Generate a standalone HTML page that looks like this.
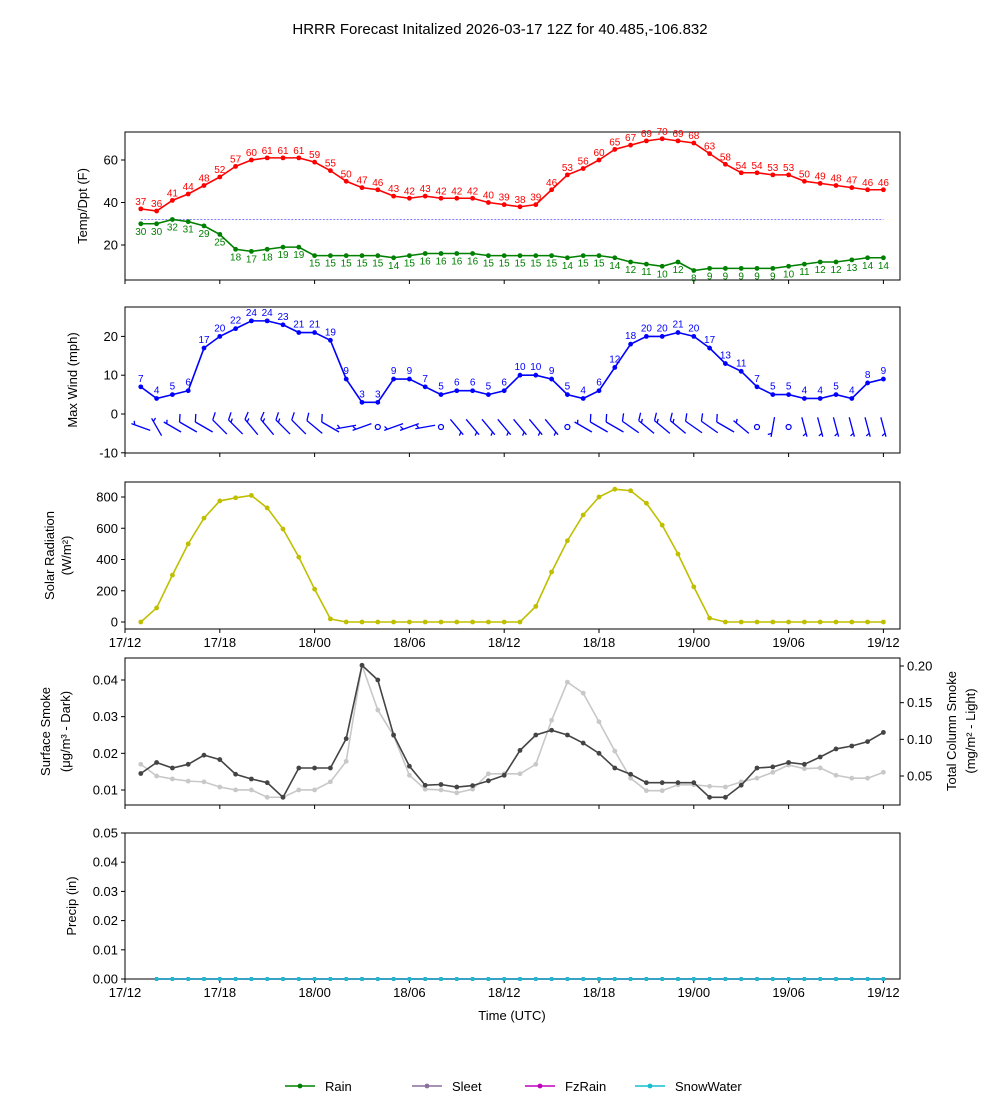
<!DOCTYPE html>
<html><head><meta charset="utf-8"><style>
body{margin:0;background:#fff;font-family:"Liberation Sans",sans-serif}
svg text{font-family:"Liberation Sans","DejaVu Sans",sans-serif}
</style></head><body>
<svg id="c" width="1000" height="1100" xmlns="http://www.w3.org/2000/svg">
<text x="500" y="34" font-size="15" text-anchor="middle">HRRR Forecast Initalized 2026-03-17 12Z for 40.485,-106.832</text>
</svg>
<script>
const hours=[1,2,3,4,5,6,7,8,9,10,11,12,13,14,15,16,17,18,19,20,21,22,23,24,25,26,27,28,29,30,31,32,33,34,35,36,37,38,39,40,41,42,43,44,45,46,47,48];
const temp=[37,36,41,44,48,52,57,60,61,61,61,59,55,50,47,46,43,42,43,42,42,42,40,39,38,39,46,53,56,60,65,67,69,70,69,68,63,58,54,54,53,53,50,49,48,47,46,46];
const dewp=[30,30,32,31,29,25,18,17,18,19,19,15,15,15,15,15,14,15,16,16,16,16,15,15,15,15,15,14,15,15,14,12,11,10,12,8,9,9,9,9,9,10,11,12,12,13,14,14];
const wind=[7,4,5,6,17,20,22,24,24,23,21,21,19,9,3,3,9,9,7,5,6,6,5,6,10,10,9,5,4,6,12,18,20,20,21,20,17,13,11,7,5,5,4,4,5,4,8,9];
const barbSpeed=[8,8,8,10,12,14,15,15,15,15,14,14,12,8,5,2,6,6,6,2,7,7,7,7,7,8,8,2,8,10,10,14,15,15,15,14,12,10,8,2,7,2,7,7,7,7,7,7];
const windDir=[290,330,300,300,300,315,315,320,320,315,315,310,300,260,250,0,250,250,260,0,140,140,140,140,140,140,140,0,300,300,300,305,310,310,310,305,305,300,310,0,190,0,165,165,165,165,165,165];
const solar=[0,90,300,500,665,775,795,810,730,595,415,210,20,0,0,0,0,0,0,0,0,0,0,0,0,100,320,520,685,800,850,840,760,620,435,225,25,0,0,0,0,0,0,0,0,0,0,0];
const smokeDark=[0.0145,0.0175,0.016,0.017,0.0195,0.0183,0.0143,0.013,0.012,0.008,0.016,0.016,0.016,0.024,0.044,0.040,0.025,0.0165,0.0113,0.0115,0.0108,0.0112,0.0125,0.014,0.0208,0.025,0.0263,0.025,0.0228,0.02,0.016,0.0143,0.012,0.012,0.012,0.012,0.008,0.008,0.0113,0.016,0.0163,0.0175,0.017,0.019,0.0212,0.022,0.0232,0.0257];
const smokeLight=[0.066,0.05,0.046,0.043,0.042,0.035,0.031,0.031,0.021,0.021,0.031,0.031,0.042,0.07,0.201,0.14,0.105,0.051,0.032,0.031,0.027,0.032,0.053,0.053,0.053,0.066,0.126,0.178,0.163,0.124,0.084,0.047,0.03,0.03,0.038,0.038,0.036,0.035,0.042,0.047,0.055,0.065,0.06,0.061,0.051,0.047,0.047,0.055];
const precip=[0,0,0,0,0,0,0,0,0,0,0,0,0,0,0,0,0,0,0,0,0,0,0,0,0,0,0,0,0,0,0,0,0,0,0,0,0,0,0,0,0,0,0,0,0,0,0];
const xTickLabels=["17/12","17/18","18/00","18/06","18/12","18/18","19/00","19/06","19/12"];
const NS="http://www.w3.org/2000/svg",svg=document.getElementById('c');
const X0=125,X1=900;
function x(h){return 125+h*15.8;}
function mk(t,a,p){const e=document.createElementNS(NS,t);for(const k in a)e.setAttribute(k,a[k]);(p||svg).appendChild(e);return e;}
function txt(s,a,p){const e=mk('text',a,p);e.textContent=s;return e;}
function panel(name,top,bot,yfn,ticks,fmt,ylabel,lx,xlabels){
  const g=mk('g',{});
  
  
  mk('rect',{x:X0,y:top,width:X1-X0,height:bot-top,fill:'none',stroke:'#000','stroke-width':1},g);
  ticks.forEach(t=>{const y=yfn(t);mk('line',{x1:X0-4,x2:X0,y1:y,y2:y,stroke:'#000'},g);
    const l=txt(fmt(t),{x:X0-7,y:y+4.5,'font-size':13,'text-anchor':'end'},g);
    });
  xTickLabels.forEach((s,i)=>{const xx=x(i*6);mk('line',{x1:xx,x2:xx,y1:bot,y2:bot+4,stroke:'#000'},g);
    if(xlabels){const l=txt(s,{x:xx,y:bot+18,'font-size':13,'text-anchor':'middle'},g);
    }});
  const cy=(top+bot)/2;
  ylabel.forEach((s,i)=>{const l=txt(s,{x:0,y:0,'font-size':13,'text-anchor':'middle',transform:`translate(${lx[i]},${cy}) rotate(-90)`},g);
    });
  return g;
}
function series(g,vals,hs,yfn,color,name,r){
  const pts=vals.map((v,i)=>x(hs[i])+','+yfn(v)).join(' ');
  const pl=mk('polyline',{points:pts,fill:'none',stroke:color,'stroke-width':1.6},g);
  
  
  vals.forEach((v,i)=>{const c=mk('circle',{cx:x(hs[i]),cy:yfn(v),r:r||2.4,fill:color},g);
    
    });
}
// Panel 1
const yT=v=>202.5-(v-40)*2.125;
let g1=panel('temp-panel',132,280,yT,[20,40,60],v=>v,['Temp/Dpt (F)'],[87],false);
mk('line',{x1:x(1),x2:x(48),y1:yT(32),y2:yT(32),stroke:'blue','stroke-width':0.6,'stroke-dasharray':'2,1.5'},g1);
series(g1,temp,hours,yT,'red','temperature');
series(g1,dewp,hours,yT,'green','dewpoint');
temp.forEach((v,i)=>{const l=txt(v,{x:x(hours[i]),y:yT(v)-4,'font-size':10,fill:'red','text-anchor':'middle'},g1);});
dewp.forEach((v,i)=>{const l=txt(v,{x:x(hours[i]),y:yT(v)+11,'font-size':10,fill:'green','text-anchor':'middle'},g1);});
// Panel 2
const yW=v=>414-v*3.88;
let g2=panel('wind-panel',307,453,yW,[-10,0,10,20],v=>v,['Max Wind (mph)'],[77],false);
series(g2,wind,hours,yW,'blue','wind');
wind.forEach((v,i)=>{const l=txt(v,{x:x(hours[i]),y:yW(v)-5,'font-size':10,fill:'blue','text-anchor':'middle'},g2);});
barbSpeed.forEach((s,i)=>{const cx=x(hours[i]),cy=427;
  if(windDir[i]===0||s<4){const c=mk('circle',{cx:cx,cy:cy,r:2.5,fill:'none',stroke:'blue','stroke-width':1.2},g2);return;}
  const a=windDir[i]*Math.PI/180,ux=Math.sin(a),uy=-Math.cos(a),L=20;
  const tx=cx+ux*L/2,ty=cy+uy*L/2;
  const b=mk('line',{x1:cx-ux*L/2,y1:cy-uy*L/2,x2:tx,y2:ty,stroke:'blue','stroke-width':1.3},g2);
  
  const px=-uy,py=ux;
  const fx=px*0.9+ux*0.45,fy=py*0.9+uy*0.45;
  let full=Math.floor(s/10),half=(s%10)>=5?1:0,k=0;
  for(let f=0;f<full;f++,k++){const bx=tx-ux*k*3.5,by=ty-uy*k*3.5;
    mk('line',{x1:bx,y1:by,x2:bx+fx*8,y2:by+fy*8,stroke:'blue','stroke-width':1.3},g2);}
  if(half){if(k===0)k=1;const bx=tx-ux*k*3.5,by=ty-uy*k*3.5;
    mk('line',{x1:bx,y1:by,x2:bx+fx*4,y2:by+fy*4,stroke:'blue','stroke-width':1.3},g2);}
});
// Panel 3
const yS=v=>622-v*0.15625;
let g3=panel('solar-panel',482,629,yS,[0,200,400,600,800],v=>v,['Solar Radiation','(W/m²)'],[54,71],true);
series(g3,solar,hours,yS,'#bfbf00','solar');
// Panel 4
const yD=v=>790-(v-0.01)*3667;
const yL=v=>666+(0.20-v)*733.3;
let g4=panel('smoke-panel',658,805,yD,[0.01,0.02,0.03,0.04],v=>v.toFixed(2),['Surface Smoke','(μg/m³ - Dark)'],[50,70],false);
[0.05,0.10,0.15,0.20].forEach(t=>{const y=yL(t);mk('line',{x1:X1,x2:X1+4,y1:y,y2:y,stroke:'#000'},g4);
  const l=txt(t.toFixed(2),{x:X1+7,y:y+4.5,'font-size':13},g4);});
['Total Column Smoke','(mg/m² - Light)'].forEach((s,i)=>{const l=txt(s,{x:0,y:0,'font-size':13,'text-anchor':'middle',transform:`translate(${956+i*19},731) rotate(-90)`},g4);});
series(g4,smokeLight,hours,yL,'#c8c8c8','smoke-light');
series(g4,smokeDark,hours,yD,'#444','smoke-dark');
// Panel 5
const yP=v=>979-v*2920;
let g5=panel('precip-panel',833,979,yP,[0,0.01,0.02,0.03,0.04,0.05],v=>v.toFixed(2),['Precip (in)'],[76],true);
const ph=hours.slice(1);
[['rain','green'],['sleet','#8c6f9c'],['fzrain','#c000c0'],['snowwater','#17becf']].forEach(s=>series(g5,precip,ph,yP,s[1],s[0],2));
const xt=txt('Time (UTC)',{x:512,y:1020,'font-size':13,'text-anchor':'middle'});

// Legend
[['Rain','green',285],['Sleet','#8c6f9c',412],['FzRain','#c000c0',525],['SnowWater','#17becf',635]].forEach(s=>{
  const g=mk('g',{});
  mk('line',{x1:s[2],x2:s[2]+30,y1:1086,y2:1086,stroke:s[1],'stroke-width':1.6},g);
  mk('circle',{cx:s[2]+15,cy:1086,r:2.4,fill:s[1]},g);
  txt(s[0],{x:s[2]+40,y:1091,'font-size':13},g);
});
</script>
</body></html>
